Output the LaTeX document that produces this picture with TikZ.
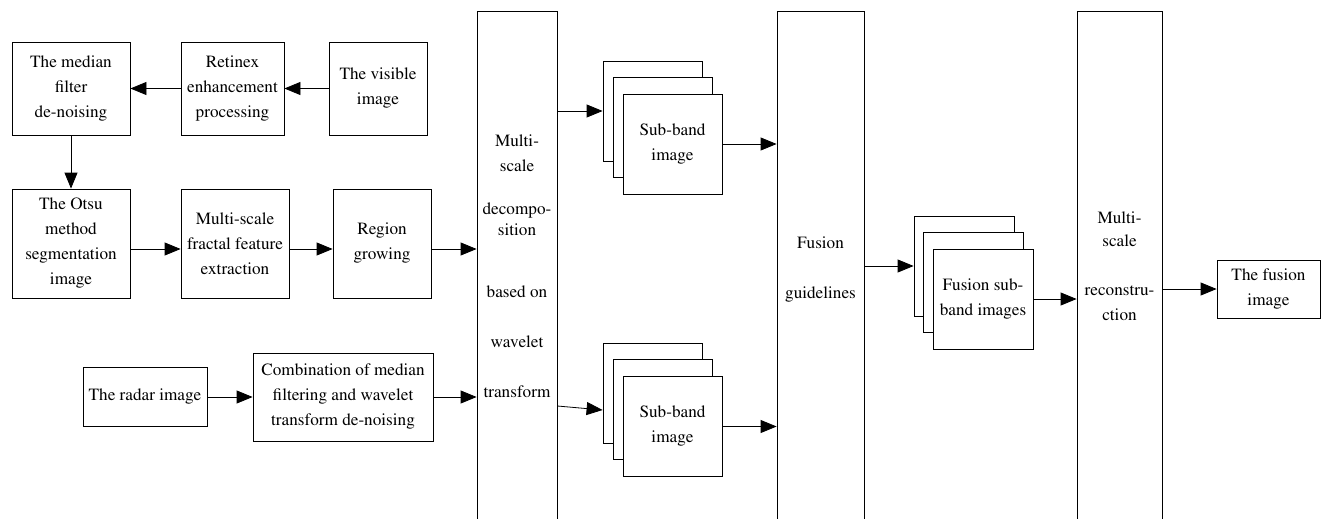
\documentclass[tikz,border=0pt]{standalone}
\usepackage[T1]{fontenc}
\usepackage{times}
\usetikzlibrary{arrows.meta}
\tikzset{
  box/.style={draw, line width=0.8pt, inner sep=0pt, align=center, fill=white},
  tall/.style={box, minimum height=529pt},
  sub/.style={box, minimum width=99pt, minimum height=100pt},
  lbl/.style={anchor=base, inner sep=0pt},
  arr/.style={draw, line width=0.8pt, -{Triangle[length=16pt,width=13pt]}},
}
\begin{document}
\begin{tikzpicture}[x=1pt, y=-1pt, font=\fontsize{17.2}{25}\selectfont]
\clip (0,0) rectangle (1322,519);

% visible-image branch
\node[box, minimum width=118pt, minimum height=93pt] (med) at (71,88.5) {The median\\filter\\de-noising};
\node[box, minimum width=103pt, minimum height=93pt] (ret) at (232.5,88.5) {Retinex\\enhancement\\processing};
\node[box, minimum width=98pt, minimum height=93pt] (vis) at (378,88.5) {The visible\\image};
\node[box, minimum width=118pt, minimum height=109pt] (otsu) at (71,243.5) {The Otsu\\method\\segmentation\\image};
\node[box, minimum width=108pt, minimum height=109pt] (frac) at (235,243.5) {Multi-scale\\fractal feature\\extraction};
\node[box, minimum width=98pt, minimum height=109pt] (reg) at (382,243.5) {Region\\growing};

% radar-image branch
\node[box, minimum width=124pt, minimum height=59pt] (radar) at (145,397) {The radar image};
\node[box, minimum width=180pt, minimum height=88pt] (comb) at (343,397) {Combination of median\\filtering and wavelet\\transform de-noising};

% decomposition column
\node[tall, minimum width=80pt] (dec) at (517,275.5) {};
\node[lbl] (dec1) at (517,146) {Multi-};
\node[lbl] (dec2) at (517,171) {scale};
\node[lbl] (dec3) at (517,214) {decompo-};
\node[lbl] (dec4) at (517,235) {sition};
\node[lbl] (dec5) at (517,297) {based on};
\node[lbl] (dec6) at (517,347) {wavelet};
\node[lbl] (dec7) at (517,397) {transform};

% sub-band stacks
\node[sub] (sbA1) at (652.5,111) {};
\node[sub] (sbA2) at (662.5,127.5) {};
\node[sub] (sbA3) at (672.5,144) {Sub-band\\image};
\node[sub] (sbB1) at (652.5,393) {};
\node[sub] (sbB2) at (662.5,409.5) {};
\node[sub] (sbB3) at (672.5,426.5) {Sub-band\\image};

% fusion column
\node[tall, minimum width=87pt] (fus) at (820.5,275.5) {};
\node[lbl] (fus1) at (820.5,248) {Fusion};
\node[lbl] (fus2) at (820.5,298) {guidelines};

% fused sub-band stack
\node[sub, minimum width=100pt] (fsb1) at (964,266) {};
\node[sub, minimum width=100pt] (fsb2) at (973.5,282) {};
\node[sub, minimum width=100pt] (fsb3) at (983,299) {Fusion sub-\\band images};

% reconstruction column
\node[tall, minimum width=85pt] (rec) at (1119.5,275.5) {};
\node[lbl] (rec1) at (1119.5,223) {Multi-};
\node[lbl] (rec2) at (1119.5,246) {scale};
\node[lbl] (rec3) at (1119.5,295) {reconstru-};
\node[lbl] (rec4) at (1119.5,320) {ction};

\node[box, minimum width=103pt, minimum height=58pt] (out) at (1268.5,289) {The fusion\\image};

% connectors
\draw[arr] (vis.west) -- (ret.east);
\draw[arr] (ret.west) -- (med.east);
\draw[arr] (med.south) -- (otsu.north);
\draw[arr] ([yshift=-5.5pt]otsu.east) -- ([yshift=-5.5pt]frac.west);
\draw[arr] ([yshift=-5.5pt]frac.east) -- ([yshift=-5.5pt]reg.west);
\draw[arr] ([yshift=-5.5pt]reg.east) -- ([yshift=-5.5pt]reg.east -| dec.west);
\draw[arr] (radar.east) -- (comb.west);
\draw[arr] (comb.east) -- (comb.east -| dec.west);
\draw[arr] (sbA1.west -| dec.east) -- (sbA1.west);
\draw[arr] (sbA3.east) -- (sbA3.east -| fus.west);
\draw[arr] ([yshift=-13pt]sbB1.west -| dec.east) -- ([yshift=-17pt]sbB1.west);
\draw[arr] (sbB3.east) -- (sbB3.east -| fus.west);
\draw[arr] (fsb1.west -| fus.east) -- (fsb1.west);
\draw[arr] (fsb3.east) -- (fsb3.east -| rec.west);
\draw[arr] (rec.east |- out.west) -- (out.west);
\end{tikzpicture}
\end{document}
